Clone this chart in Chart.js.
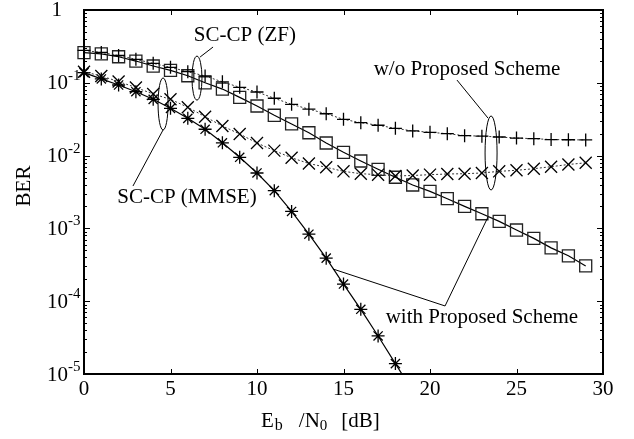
<!DOCTYPE html>
<html>
<head>
<meta charset="utf-8">
<title>BER vs Eb/N0</title>
<script src="https://cdn.jsdelivr.net/npm/chart.js@4.4.1/dist/chart.umd.min.js"></script>
<style>
    html, body { margin: 0; padding: 0; background: #fff; }
    #wrap { width: 634px; height: 439px; position: relative; }
</style>
</head>
<body>
<div id="wrap"><canvas id="berChart"></canvas></div>
<script>
// Eb/N0 [dB]
const ebn0 = [0, 1, 2, 3, 4, 5, 6, 7, 8, 9, 10, 11, 12, 13, 14, 15, 16, 17, 18, 19,
              20, 21, 22, 23, 24, 25, 26, 27, 28, 29];

// SC-CP (ZF) con esquema propuesto (cuadrados, linea continua)
const berZfProposed = [0.26, 0.249, 0.228, 0.199, 0.170, 0.148, 0.125, 0.100, 0.082, 0.063,
                       0.048, 0.0358, 0.0272, 0.0206, 0.0149, 0.0111, 0.00843, 0.00648, 0.00504, 0.00395,
                       0.00323, 0.00256, 0.00201, 0.00159, 0.00125, 0.00095, 0.00073, 0.00054, 0.00042, 0.000305];

// SC-CP (ZF) sin esquema propuesto (cruces +, punteada)
const berZfConventional = [0.278, 0.261, 0.237, 0.210, 0.185, 0.163, 0.142, 0.124, 0.103, 0.0867,
                           0.0748, 0.0613, 0.0507, 0.0434, 0.0376, 0.0315, 0.0283, 0.0261, 0.0237, 0.0218,
                           0.0209, 0.0200, 0.0188, 0.0185, 0.0180, 0.0174, 0.0171, 0.0166, 0.0165, 0.0164];

// SC-CP (MMSE) sin esquema propuesto (x, punteada)
const berMmseConventional = [0.142, 0.124, 0.104, 0.0862, 0.0702, 0.0593, 0.0461, 0.0342, 0.0255, 0.0198,
                             0.0149, 0.0117, 0.00933, 0.00779, 0.00691, 0.00608, 0.00564, 0.00547, 0.00525, 0.00533,
                             0.00547, 0.00559, 0.00564, 0.00577, 0.00608, 0.00628, 0.00661, 0.00704, 0.00755, 0.00796];

// SC-CP (MMSE) con esquema propuesto (asteriscos, linea continua)
const ebn0Mmse = [0, 1, 2, 3, 4, 5, 6, 7, 8, 9, 10, 11, 12, 13, 14, 15, 16, 17, 18, 19];
const berMmseProposed = [0.138, 0.113, 0.0933, 0.0755, 0.0593, 0.0446, 0.0325, 0.0230, 0.0150, 0.00948,
                         0.00577, 0.00330, 0.00171, 0.000832, 0.000390, 0.000172, 0.0000774, 0.0000333, 0.0000139, 0.0000058];

// Ejes
const xTicks = [0, 5, 10, 15, 20, 25, 30];
const yDecades = [0, -1, -2, -3, -4, -5];

const FONT = '"Liberation Serif", "Times New Roman", serif';

function toPoints(xs, ys) {
    return ys.map((y, i) => ({x: xs[i], y: y}));
}

// Marco, ticks hacia adentro, etiquetas 10^n, titulos y anotaciones
const paperPlugin = {
    id: 'paper',
    afterDraw(chart) {
        const ctx = chart.ctx;
        const sx = chart.scales.x;
        const sy = chart.scales.y;
        const a = chart.chartArea;
        const X = v => sx.getPixelForValue(v);
        const Y = v => sy.getPixelForValue(v);

        ctx.save();
        ctx.strokeStyle = '#000';
        ctx.fillStyle = '#000';

        // ticks
        ctx.lineWidth = 1;
        ctx.beginPath();
        xTicks.forEach(v => {
            if (v === 0 || v === 30) return;
            const px = Math.round(X(v)) + 0.5;
            ctx.moveTo(px, a.bottom); ctx.lineTo(px, a.bottom - 5);
            ctx.moveTo(px, a.top); ctx.lineTo(px, a.top + 5);
        });
        yDecades.forEach(d => {
            if (d === 0) return;
            for (let m = 1; m < 10; m++) {
                const py = Math.round(Y(m * Math.pow(10, d))) + 0.5;
                const len = m === 1 ? 6 : 3;
                ctx.moveTo(a.left, py); ctx.lineTo(a.left + len, py);
                ctx.moveTo(a.right, py); ctx.lineTo(a.right - len, py);
            }
        });
        ctx.stroke();

        // marco
        ctx.lineWidth = 2;
        ctx.strokeRect(a.left, a.top, a.right - a.left, a.bottom - a.top);

        // etiquetas eje y
        ctx.textBaseline = 'middle';
        yDecades.forEach(d => {
            const py = Y(Math.pow(10, d));
            if (d === 0) {
                ctx.font = '21px ' + FONT;
                ctx.textAlign = 'right';
                ctx.fillText('1', a.left - 22, py);
                return;
            }
            ctx.font = '21px ' + FONT;
            ctx.textAlign = 'right';
            ctx.fillText('10', a.left - 16, py + 1);
            ctx.font = '15px ' + FONT;
            ctx.textAlign = 'left';
            ctx.fillText(String(d), a.left - 16, py - 7);
        });

        // titulo eje y
        ctx.save();
        ctx.translate(24, (a.top + a.bottom) / 2 - 6);
        ctx.rotate(-Math.PI / 2);
        ctx.font = '21px ' + FONT;
        ctx.textAlign = 'center';
        ctx.fillText('BER', 0, 0);
        ctx.restore();

        // titulo eje x: E_b /N_0  [dB]
        ctx.textAlign = 'left';
        ctx.textBaseline = 'alphabetic';
        const base = 427;
        let cx = 261;
        ctx.font = '21px ' + FONT;
        ctx.fillText('E', cx, base);
        cx += ctx.measureText('E').width + 1;
        ctx.font = '16px ' + FONT;
        ctx.fillText('b', cx, base + 3);
        cx += ctx.measureText('b').width + 16;
        ctx.font = '21px ' + FONT;
        ctx.fillText('/N', cx, base);
        cx += ctx.measureText('/N').width;
        ctx.font = '15px ' + FONT;
        ctx.fillText('0', cx, base + 3);
        cx += ctx.measureText('0').width + 14;
        ctx.font = '21px ' + FONT;
        ctx.fillText('[dB]', cx, base);

        // anotaciones
        ctx.lineWidth = 1;
        ctx.font = '21px ' + FONT;
        ctx.textAlign = 'center';
        ctx.textBaseline = 'middle';

        const line = (x1, y1, x2, y2) => {
            ctx.beginPath();
            ctx.moveTo(X(x1), Y(y1));
            ctx.lineTo(X(x2), Y(y2));
            ctx.stroke();
        };
        const ellipse = (x, y, rx, ry) => {
            ctx.beginPath();
            ctx.ellipse(X(x), Y(y), rx, ry, 0, 0, Math.PI * 2);
            ctx.stroke();
        };

        // SC-CP (ZF)
        ctx.fillText('SC-CP (ZF)', X(9.3), Y(0.44));
        line(7.46, 0.31, 6.71, 0.226);
        ellipse(6.53, 0.116, 5, 22);

        // SC-CP (MMSE)
        ctx.fillText('SC-CP (MMSE)', X(5.95), Y(0.00262));
        line(2.83, 0.00382, 4.57, 0.0225);
        ellipse(4.57, 0.0512, 5, 26);

        // w/o Proposed Scheme
        ctx.fillText('w/o Proposed Scheme', X(22.14), Y(0.15));
        line(21.56, 0.109, 23.35, 0.0328);
        ellipse(23.53, 0.01086, 6, 37);

        // with Proposed Scheme
        ctx.fillText('with Proposed Scheme', X(23.0), Y(5.9e-5));
        line(20.87, 8.6e-5, 14.39, 2.77e-4);
        line(20.87, 8.6e-5, 23.35, 1.43e-3);

        ctx.restore();
    }
};

document.addEventListener('DOMContentLoaded', function () {
    const ctx = document.getElementById('berChart').getContext('2d');
    const clipAll = {left: 12, top: 12, right: 12, bottom: 12};

    window.berChartInstance = new Chart(ctx, {
        type: 'line',
        data: {
            datasets: [{
                    label: 'SC-CP (ZF) w/o Proposed Scheme',
                    data: toPoints(ebn0, berZfConventional),
                    borderColor: '#333',
                    borderWidth: 1,
                    borderDash: [2, 2],
                    pointStyle: 'cross',
                    pointRadius: 6.5,
                    pointBorderColor: '#000',
                    pointBorderWidth: 1.3,
                    clip: clipAll
                }, {
                    label: 'SC-CP (MMSE) w/o Proposed Scheme',
                    data: toPoints(ebn0, berMmseConventional),
                    borderColor: '#333',
                    borderWidth: 1,
                    borderDash: [2, 2],
                    pointStyle: 'crossRot',
                    pointRadius: 8.5,
                    pointBorderColor: '#000',
                    pointBorderWidth: 1.3,
                    clip: clipAll
                }, {
                    label: 'SC-CP (ZF) with Proposed Scheme',
                    data: toPoints(ebn0, berZfProposed),
                    borderColor: '#000',
                    borderWidth: 1.2,
                    pointStyle: 'rect',
                    pointRadius: 8.5,
                    pointBorderColor: '#222',
                    pointBackgroundColor: 'rgba(0,0,0,0)',
                    pointBorderWidth: 1.3,
                    clip: clipAll
                }, {
                    label: 'SC-CP (MMSE) with Proposed Scheme',
                    data: toPoints(ebn0Mmse, berMmseProposed),
                    borderColor: '#000',
                    borderWidth: 1.2,
                    pointStyle: 'star',
                    pointRadius: 6.5,
                    pointBorderColor: '#000',
                    pointBorderWidth: 1.3,
                    clip: {left: 12, top: 12, right: 12, bottom: 0}
                }]
        },
        options: {
            responsive: true,
            maintainAspectRatio: false,
            animation: false,
            layout: {
                padding: {left: 84, right: 31, top: 10, bottom: 0}
            },
            plugins: {
                legend: {display: false},
                tooltip: {enabled: false}
            },
            scales: {
                x: {
                    type: 'linear',
                    min: 0,
                    max: 30,
                    grid: {display: false, drawTicks: false},
                    border: {display: false},
                    ticks: {
                        stepSize: 5,
                        padding: 3,
                        maxRotation: 0,
                        color: '#000',
                        font: {family: FONT, size: 21}
                    },
                    afterFit: function (scale) {
                        scale.height = 65;
                    }
                },
                y: {
                    type: 'logarithmic',
                    min: 1e-5,
                    max: 1,
                    display: false
                }
            }
        },
        plugins: [paperPlugin]
    });
});
</script>
</body>
</html>
